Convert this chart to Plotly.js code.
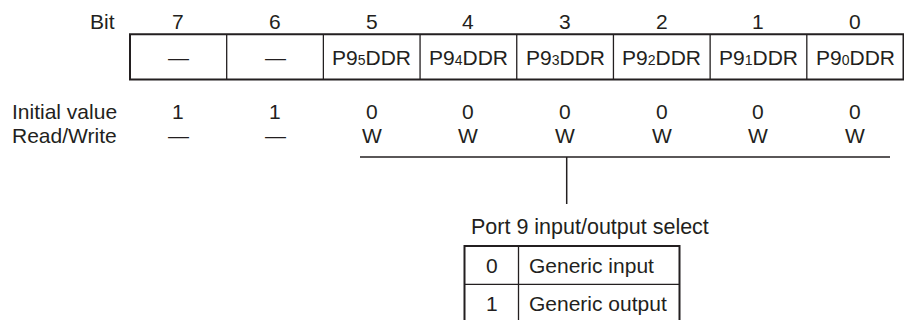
<!DOCTYPE html>
<html>
<head>
<meta charset="utf-8">
<script src="https://cdn.plot.ly/plotly-3.0.1.min.js"></script>
<style>html,body{margin:0;padding:0;background:#fff;}#chart{width:904px;height:320px;}</style>
</head>
<body>
<div id="chart"></div>
<script>
// ---- data ----
const bits = ["7", "6", "5", "4", "3", "2", "1", "0"];
const fieldPrefix = ["", "", "P9", "P9", "P9", "P9", "P9", "P9"];
const fieldIndex = ["", "", "5", "4", "3", "2", "1", "0"];
const fieldSuffix = ["—", "—", "DDR", "DDR", "DDR", "DDR", "DDR", "DDR"];
const initialValues = ["1", "1", "0", "0", "0", "0", "0", "0"];
const readWrite = ["—", "—", "W", "W", "W", "W", "W", "W"];
const rowLabels = ["Bit", "Initial value", "Read/Write"];
const selectTitle = "Port 9 input/output select";
const selectValues = ["0", "1"];
const selectMeanings = ["Generic input", "Generic output"];

// ---- layout constants ----
const INK = "#231f20";
const FONT = "Liberation Sans, Arial, Helvetica, sans-serif";
const FS = 21;
const regLeft = 130, regRight = 903.5, regTop = 34.3, regBottom = 79.5;
const cellW = (regRight - regLeft) / bits.length;
const yBit = 21, yInit = 111, yRW = 135;
const brY = 157, brLeft = 360, brRight = 890, stemX = 566.7, stemBottom = 204;
const tblLeft = 464.5, tblDiv = 518.5, tblRight = 679.5, tblTop = 246, rowH = 38.3;

const shapes = [];
const annotations = [];
function line(x0, y0, x1, y1, w) {
  shapes.push({type: "line", xref: "x", yref: "y", x0, y0, x1, y1, line: {color: INK, width: w}});
}
function text(t, x, y, anchor, size) {
  annotations.push({text: t, x, y, xref: "x", yref: "y", showarrow: false,
    xanchor: anchor || "center", yanchor: "middle",
    font: {family: FONT, size: size || FS, color: INK}});
}

// register box
shapes.push({type: "rect", xref: "x", yref: "y", x0: regLeft, x1: regRight, y0: regTop, y1: regBottom,
  line: {color: INK, width: 2}});
for (let i = 1; i < bits.length; i++) {
  line(regLeft + i * cellW, regTop, regLeft + i * cellW, regBottom, 1.3);
}
text(rowLabels[0], 117, yBit, "right");
text(rowLabels[1], 10, yInit, "left");
text(rowLabels[2], 10, yRW, "left");
bits.forEach((b, i) => {
  const cx = regLeft + (i + 0.5) * cellW;
  text(b, cx, yBit);
  const idx = fieldIndex[i] ? '<span style="font-size:14px">' + fieldIndex[i] + '</span>' : "";
  text(fieldPrefix[i] + idx + fieldSuffix[i], cx, (regTop + regBottom) / 2 + 1);
  text(initialValues[i], cx, yInit);
  text(readWrite[i], cx, yRW);
});

// bracket
line(brLeft, brY, brRight, brY, 1.5);
line(stemX, brY, stemX, stemBottom, 1.5);

// selection table
text(selectTitle, 469, 227, "left", 21.5);
const tblBottom = tblTop + rowH * selectValues.length;
shapes.push({type: "rect", xref: "x", yref: "y", x0: tblLeft, x1: tblRight, y0: tblTop, y1: tblBottom,
  line: {color: INK, width: 2}});
line(tblDiv, tblTop, tblDiv, tblBottom, 1.3);
selectValues.forEach((v, i) => {
  const cy = tblTop + (i + 0.5) * rowH;
  if (i > 0) line(tblLeft, tblTop + i * rowH, tblRight, tblTop + i * rowH, 1.3);
  text(v, (tblLeft + tblDiv) / 2, cy);
  text(selectMeanings[i], tblDiv + 8, cy, "left");
});

Plotly.newPlot("chart", [{x: [], y: [], type: "scatter", hoverinfo: "skip"}], {
  width: 904, height: 320,
  margin: {l: 0, r: 0, t: 0, b: 0, pad: 0},
  paper_bgcolor: "#fff", plot_bgcolor: "#fff",
  showlegend: false,
  xaxis: {range: [0, 904], visible: false, fixedrange: true},
  yaxis: {range: [320, 0], visible: false, fixedrange: true},
  shapes, annotations
}, {displayModeBar: false, staticPlot: true});
</script>
</body>
</html>
